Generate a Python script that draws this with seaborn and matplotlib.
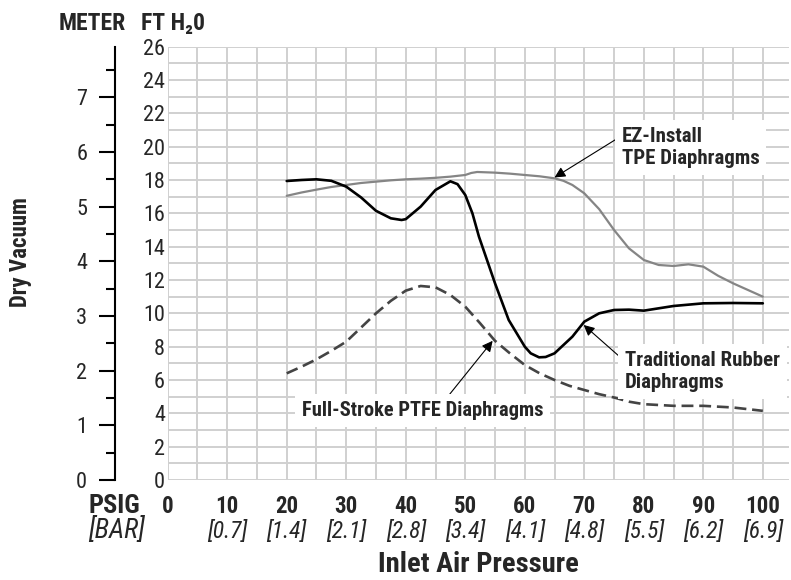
import numpy as np
import pandas as pd
import matplotlib.pyplot as plt
import seaborn as sns
from matplotlib import font_manager as fm
from matplotlib.ticker import MultipleLocator

# values (x = psig, y = ft H2O)
ez_psig = [20, 22.5, 25, 27.5, 30, 32.5, 35, 37.5, 40, 42.5, 45, 47.5, 50, 51, 52, 55,
           57.5, 60, 62.5, 65, 66.5, 68, 70, 72.5, 75, 77.5, 80, 82.5, 85, 87.5, 90,
           92.5, 95, 97.5, 100]
ez_ft = [17.05, 17.25, 17.42, 17.58, 17.7, 17.82, 17.9, 17.98, 18.04, 18.08, 18.13, 18.2,
         18.3, 18.42, 18.48, 18.44, 18.38, 18.3, 18.22, 18.1, 17.95, 17.7, 17.2, 16.25,
         15.0, 13.9, 13.2, 12.9, 12.84, 12.94, 12.8, 12.25, 11.8, 11.4, 11.0]

rubber_psig = [20, 22.5, 25, 27.5, 30, 32.5, 35, 37.5, 39.3, 40, 42.5, 45, 47.5, 48.7, 50,
               51.2, 52.3, 55, 57.3, 60, 61, 62.4, 63.5, 65, 68, 70, 72.5, 75, 77.5, 80,
               82.5, 85, 87.5, 90, 95, 100]
rubber_ft = [17.94, 18.0, 18.04, 17.95, 17.6, 16.95, 16.15, 15.7, 15.6, 15.65, 16.4, 17.4,
             17.92, 17.75, 17.1, 16.0, 14.6, 11.8, 9.6, 8.0, 7.6, 7.36, 7.38, 7.6, 8.6,
             9.5, 10.0, 10.2, 10.22, 10.16, 10.3, 10.44, 10.52, 10.6, 10.62, 10.6]

ptfe_psig = [20, 22.5, 25, 27.5, 30, 32.5, 35, 37.5, 40, 42.5, 45, 47.5, 50, 52.5, 55,
             57.5, 60, 62.5, 65, 67.5, 70, 72.5, 75, 77.5, 80, 85, 90, 95, 100]
ptfe_ft = [6.4, 6.8, 7.24, 7.75, 8.3, 9.15, 10.0, 10.75, 11.36, 11.64, 11.56, 11.1, 10.4,
           9.4, 8.35, 7.6, 6.9, 6.4, 6.0, 5.65, 5.4, 5.15, 4.95, 4.7, 4.55, 4.45, 4.45,
           4.35, 4.15]

psig_ticks = [0, 10, 20, 30, 40, 50, 60, 70, 80, 90, 100]
bar_labels = ["", "[0.7]", "[1.4]", "[2.1]", "[2.8]", "[3.4]", "[4.1]", "[4.8]",
              "[5.5]", "[6.2]", "[6.9]"]
ft_ticks = list(range(0, 27, 2))
meter_ticks = list(range(0, 8))

FT_PER_M = 3.28084

sns.set_theme(style="white")

# look for a narrow / condensed face, the reference uses a condensed grotesk
entries = fm.fontManager.ttflist
names = {f.name for f in entries}
narrow = None
for cand in ["Liberation Sans Narrow", "Roboto Condensed", "Open Sans Condensed",
             "Noto Sans Condensed", "DejaVu Sans Condensed"]:
    if cand in names:
        narrow = cand
        break
stretch = "normal"
if narrow is None:
    for fam in ["Roboto", "Noto Sans", "Open Sans", "Inter", "DejaVu Sans"]:
        if any(f.name == fam and f.stretch != "normal" and f.weight in (700, "bold")
               for f in entries):
            narrow = fam
            stretch = "condensed"
            break
if narrow is None:
    family = ["Liberation Sans", "DejaVu Sans"]
    k = 0.84
else:
    family = [narrow, "DejaVu Sans"]
    k = 1.0
plt.rcParams['font.family'] = family
plt.rcParams['font.stretch'] = stretch

fig = plt.figure(figsize=(7.91, 5.8), dpi=100)
ax = fig.add_axes([0.2120, 0.1724, 0.7855, 0.7472])

sns.lineplot(x=ez_psig, y=ez_ft, ax=ax, color="#858585", lw=1.6, zorder=3)
sns.lineplot(x=rubber_psig, y=rubber_ft, ax=ax, color="black", lw=1.9, zorder=4)
sns.lineplot(x=ptfe_psig, y=ptfe_ft, ax=ax, color="#444444", lw=1.9,
             linestyle=(0, (4.5, 2.2)), zorder=3)

ax.set_xlim(0, 104.4)
ax.set_ylim(0, 26)
ax.set_xticks(psig_ticks)
ax.set_xticklabels([str(t) for t in psig_ticks], fontsize=16.5 * k, fontweight="bold")
ax.xaxis.set_minor_locator(MultipleLocator(5))
ax.set_yticks(ft_ticks)
ax.set_yticklabels([str(t) for t in ft_ticks], fontsize=16 * k)
ax.yaxis.set_minor_locator(MultipleLocator(1))
ax.tick_params(axis="both", which="both", length=0)
ax.tick_params(axis="x", pad=11)
ax.tick_params(axis="y", pad=2)
ax.grid(True, which="both", color="#d0d0d0", lw=1.4)
ax.set_axisbelow(True)
for s in ax.spines.values():
    s.set_visible(False)
ax.set_xlabel("")
ax.set_ylabel("")

# bar equivalents under the psig labels
for p, b in zip(psig_ticks, bar_labels):
    ax.text(p, -0.119, b, transform=ax.get_xaxis_transform(), ha="center", va="center",
            fontsize=17 * k, fontstyle="italic")

# meter scale on the left
sec = ax.secondary_yaxis(-0.0848, functions=(lambda f: f / FT_PER_M, lambda m: m * FT_PER_M))
sec.set_yticks(meter_ticks)
sec.set_yticklabels([str(m) for m in meter_ticks], fontsize=16 * k)
sec.yaxis.set_minor_locator(MultipleLocator(0.5))
sec.tick_params(axis="y", which="major", direction="out", length=11.5, width=1.5, pad=8.5,
                color="black")
sec.tick_params(axis="y", which="minor", direction="out", length=6.5, width=1.5,
                color="black")
sec.spines["left"].set_linewidth(1.5)
sec.spines["left"].set_color("black")

# headers and axis titles
fig.text(0.1163, 0.960, "METER", ha="center", va="center", fontsize=17 * k,
         fontweight="bold")
fig.text(0.2187, 0.960, "FT H\u20820", ha="center", va="center", fontsize=17 * k,
         fontweight="bold")
fig.text(0.0265, 0.5655, "Dry Vacuum", rotation=90, ha="center", va="center",
         fontsize=16.5 * k, fontweight="bold")
fig.text(0.144, 0.1276, "PSIG", ha="center", va="center", fontsize=19 * k,
         fontweight="bold")
fig.text(0.1467, 0.0845, "[BAR]", ha="center", va="center", fontsize=19.5 * k,
         fontstyle="italic")
fig.text(0.605, 0.0259, "Inlet Air Pressure", ha="center", va="center", fontsize=20.5 * k,
         fontweight="bold")

# callouts
box = dict(facecolor="white", edgecolor="none", pad=5)
arrow = dict(arrowstyle="-|>", color="black", lw=0.8, mutation_scale=16,
             shrinkA=0, shrinkB=0)
ax.text(76.3, 19.95, "EZ-Install\nTPE Diaphragms", ha="left", va="center",
        fontsize=15 * k, fontweight="bold", bbox=box, zorder=6, linespacing=1.2)
ax.annotate("", xy=(65.0, 18.15), xytext=(75.6, 20.5), arrowprops=arrow, zorder=5)

ax.text(76.8, 6.5, "Traditional Rubber\nDiaphragms", ha="left", va="center",
        fontsize=15 * k, fontweight="bold", bbox=box, zorder=6, linespacing=1.2)
ax.annotate("", xy=(69.9, 9.3), xytext=(76.0, 7.38), arrowprops=arrow, zorder=5)

ax.text(22.5, 4.15, "Full-Stroke PTFE Diaphragms", ha="left", va="center",
        fontsize=14.8 * k, fontweight="bold", bbox=box, zorder=6)
ax.annotate("", xy=(54.6, 8.35), xytext=(46.6, 4.8), arrowprops=arrow, zorder=5)

fig.savefig("out.png", dpi=100)
